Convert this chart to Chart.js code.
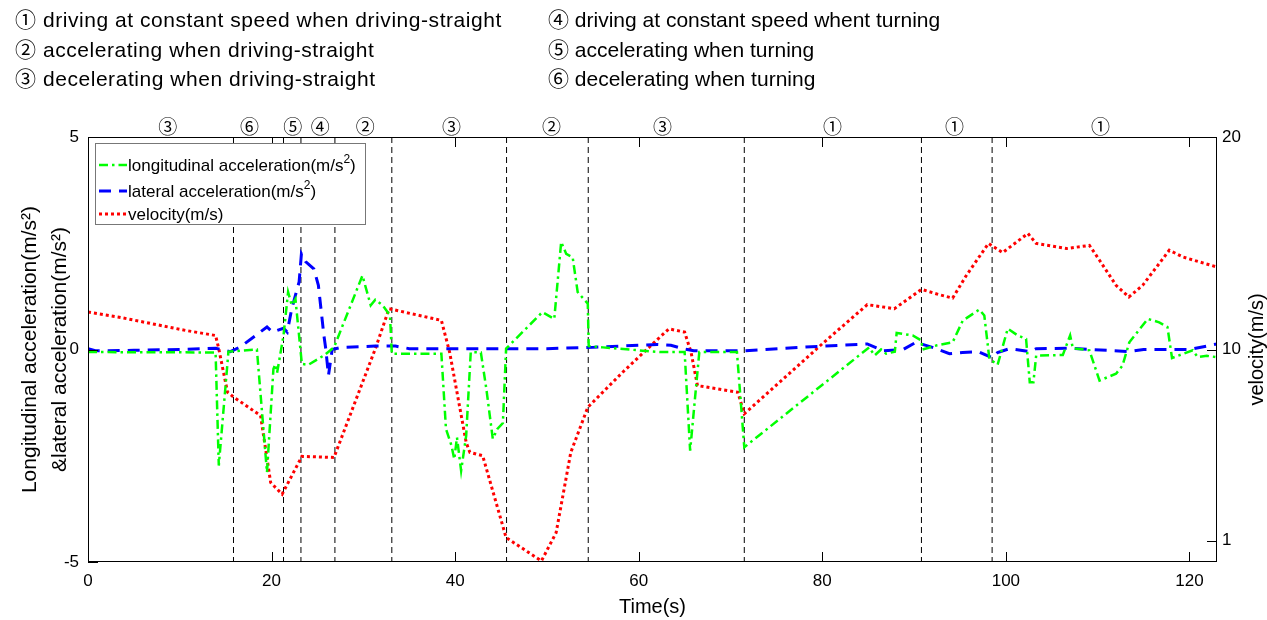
<!DOCTYPE html>
<html lang="en">
<head>
<meta charset="UTF-8" />
<title>Acceleration and velocity over time</title>
<script src="https://cdn.jsdelivr.net/npm/chart.js"></script>
<style>
  html, body { margin: 0; padding: 0; background: #fff; }
  #wrap { position: relative; width: 1267px; height: 620px; overflow: hidden; }
  #myChart { position: absolute; left: 0; top: 0; }
  .note {
    position: absolute;
    white-space: nowrap;
    font-family: "Liberation Sans", Arial, "Noto Sans CJK SC", sans-serif;
    font-size: 21px;
    line-height: 30px;
    color: #000;
  }
  .note.wide { letter-spacing: 0.55px; }
</style>
</head>
<body>
<div id="wrap">
  <canvas id="myChart" width="1267" height="620"></canvas>
</div>
<script>
// driving states listed above the plot
const stateNames = [
  "① driving at constant speed when driving-straight",
  "② accelerating when driving-straight",
  "③ decelerating when driving-straight",
  "④ driving at constant speed whent turning",
  "⑤ accelerating when turning",
  "⑥ decelerating when turning",
];

// segment boundaries (s) and the state mark above each segment
const boundaryTime = [15.85, 21.3, 23.2, 26.9, 33.1, 45.6, 54.5, 71.5, 90.8, 98.5, 123];
const stateMarkTime = [8.7, 17.6, 22.3, 25.3, 30.2, 39.6, 50.5, 62.6, 81.1, 94.4, 110.3];
const stateMarks = ["③", "⑥", "⑤", "④", "②", "③", "②", "③", "①", "①", "①"];

// tick labels
const timeTicks = [0, 20, 40, 60, 80, 100, 120];
const accTicks = [-5, 0, 5];
const velTicks = [1, 10, 20];

// longitudinal acceleration (m/s^2)
const lonTime = [0, 13.9, 14.25, 15.3, 18.4, 19.5, 20.2, 20.4, 20.6, 21.3, 21.8, 22.2, 22.6, 23.3, 24.0, 25.7, 26.8,
  29.9, 30.8, 31.3, 32.1, 32.9, 33.1, 38.5, 39.0, 39.6, 39.9, 40.2, 40.65, 41.2, 41.7, 42.8, 43.4, 44.1, 44.6, 45.2,
  45.55, 49.5, 50.8, 51.55, 52.1, 52.8, 53.35, 54.45, 54.55, 56.1, 62.3, 65.0, 65.6, 66.6, 70.7, 71.5, 85.1, 85.7,
  86.4, 86.95, 87.9, 88.1, 89.85, 90.8, 90.9, 92.5, 94.2, 95.3, 97.1, 97.65, 98.2, 99.1, 100.2, 101.3, 102.2, 102.6,
  103.0, 103.3, 106.2, 107.0, 107.3, 109.1, 110.2, 112.0, 112.7, 113.45, 115.45, 116.7, 117.6, 118.1, 120.35, 120.9,
  121.9, 123];
const lonAcc = [-0.06, -0.07, -2.73, -0.05, 0.0, -2.89, -0.46, -0.35, -0.55, 0.33, 1.35, 1.04, 1.19, -0.34, -0.36, -0.14, 0.05,
  1.74, 1.04, 1.17, 1.04, 0.8, -0.1, -0.1, -1.87, -2.26, -2.58, -2.07, -2.85, -2.03, -0.06, -0.07, -0.93, -2.1, -1.87, -1.73,
  0.02, 0.88, 0.72, 2.53, 2.25, 2.17, 1.35, 1.08, 0.08, 0.05, -0.06, -0.06, -2.38, -0.06, -0.06, -2.3, 0.05, -0.14,
  0.0, -0.1, -0.05, 0.39, 0.33, 0.21, 0.0, 0.1, 0.17, 0.68, 0.94, 0.8, -0.22, -0.36, 0.49, 0.33, 0.25, -0.77,
  -0.77, -0.14, -0.13, 0.33, 0.03, -0.02, -0.73, -0.57, -0.38, 0.17, 0.72, 0.64, 0.53, -0.2, -0.02, -0.18,
  -0.15, -0.18];

// lateral acceleration (m/s^2)
const latTime = [0, 0.8, 5, 10, 13.9, 15.5, 16.6, 19.5, 20.1, 21.3, 21.7, 22.2, 23.0, 23.25, 23.7, 24.6, 25.1, 25.7, 25.9,
  26.2, 26.6, 27.6, 31.3, 33.5, 35, 40, 50, 55, 60, 62, 63.5, 64.8, 66, 71.5, 80, 84.9, 86.6, 88.8, 90.2, 92.0, 93.85,
  95.3, 97, 98.55, 99.1, 100.4, 102.6, 103.3, 107, 113.45, 115, 120, 123];
const latAcc = [0.02, -0.03, -0.02, 0.0, 0.03, -0.05, 0.06, 0.53, 0.41, 0.5, 0.41, 0.96, 1.59, 2.25, 2.07, 1.9, 1.51, 0.33, 0.02,
  -0.61, 0.0, 0.05, 0.08, 0.08, 0.02, 0.02, 0.02, 0.05, 0.1, 0.12, 0.1, 0.02, -0.03, -0.03, 0.08, 0.13, -0.03, 0.0, 0.17, 0.05, -0.1,
  -0.07, -0.05, -0.2, -0.07, 0.02, -0.05, 0.02, 0.03, -0.05, 0.0, 0.0, 0.13];

// velocity (m/s)
const velTime = [0, 3.4, 7.0, 10.6, 13.9, 14.25, 15.2, 15.9, 18.8, 19.9, 21.15, 23.3, 26.8, 31.3, 32.8, 38.5, 39.4, 41.2,
  41.6, 43.0, 45.55, 49.4, 51.0, 52.6, 54.45, 58.25, 62.3, 63.3, 65.0, 65.7, 66.4, 70.8, 71.5, 80.0, 84.9, 87.85, 90.8,
  92.75, 94.2, 95.7, 98.1, 99.65, 102.4, 103.3, 106.6, 109.1, 110.2, 112.0, 113.4, 114.9, 117.8, 119.3, 123];
const vel = [11.76, 11.52, 11.21, 10.9, 10.66, 10.03, 7.99, 7.75, 6.89, 3.74, 3.19, 4.97, 4.92, 10.03, 11.92, 11.37, 9.87, 5.63,
  5.16, 5.0, 1.15, 0.05, 1.38, 5.16, 7.28, 8.93, 10.58, 10.97, 10.82, 9.87, 8.3, 7.99, 6.97, 10.27, 12.11, 11.92, 12.83,
  12.58, 12.42, 13.49, 14.99, 14.56, 15.46, 14.99, 14.75, 14.9, 14.2, 13.02, 12.47, 13.02, 14.67, 14.35, 13.88];

const FONT = '"Liberation Sans", Arial, sans-serif';

// state list above the chart
const wrap = document.getElementById("wrap");
stateNames.forEach((s, i) => {
  const d = document.createElement("div");
  d.className = i < 3 ? "note wide" : "note";
  d.textContent = s;
  d.style.left = (i < 3 ? 15 : 548) + "px";
  d.style.top = (5 + (i % 3) * 29.5) + "px";
  wrap.appendChild(d);
});

const toPoints = (xs, ys) => xs.map((t, i) => ({ x: t, y: ys[i] }));

// text with "²" drawn as a raised small 2
function drawSup(ctx, text, x, y, size) {
  const parts = text.split("²");
  let cx = x;
  parts.forEach((p, i) => {
    ctx.font = size + "px " + FONT;
    ctx.fillText(p, cx, y);
    cx += ctx.measureText(p).width;
    if (i < parts.length - 1) {
      ctx.font = Math.round(size * 0.68) + "px " + FONT;
      ctx.fillText("2", cx, y - size * 0.38);
      cx += ctx.measureText("2").width;
    }
  });
}

// box, inward ticks, legend, state marks and right axis title
const framePlugin = {
  id: "frame",
  afterDatasetsDraw(chart) {
    const { ctx, chartArea: a, scales } = chart;
    const { x, y, y1 } = scales;
    ctx.save();
    ctx.setLineDash([]);
    ctx.strokeStyle = "#000";
    ctx.lineWidth = 1;

    ctx.beginPath();
    timeTicks.forEach(t => {
      const px = Math.round(x.getPixelForValue(t)) + 0.5;
      ctx.moveTo(px, a.bottom); ctx.lineTo(px, a.bottom - 10);
      ctx.moveTo(px, a.top); ctx.lineTo(px, a.top + 10);
    });
    accTicks.forEach(v => {
      const py = Math.round(y.getPixelForValue(v)) + 0.5;
      ctx.moveTo(a.left, py); ctx.lineTo(a.left + 10, py);
    });
    velTicks.forEach(v => {
      const py = Math.round(y1.getPixelForValue(v)) + 0.5;
      ctx.moveTo(a.right, py); ctx.lineTo(a.right - 10, py);
    });
    ctx.stroke();
    ctx.strokeRect(a.left + 0.5, a.top + 0.5, a.right - a.left - 1, a.bottom - a.top - 1);

    // legend
    const lx = a.left + 7, ly = a.top + 6, lw = 270, lh = 81;
    ctx.fillStyle = "#fff";
    ctx.fillRect(lx, ly, lw, lh);
    ctx.strokeStyle = "#777";
    ctx.strokeRect(lx + 0.5, ly + 0.5, lw, lh);
    ctx.textBaseline = "middle";
    ctx.textAlign = "left";
    [22, 48, 71].forEach((off, i) => {
      const ds = chart.data.datasets[i];
      const ry = ly + off;
      ctx.strokeStyle = ds.borderColor;
      ctx.lineWidth = ds.borderWidth;
      ctx.setLineDash(ds.borderDash);
      ctx.beginPath();
      ctx.moveTo(lx + 4, ry); ctx.lineTo(lx + 32, ry);
      ctx.stroke();
      ctx.setLineDash([]);
      ctx.fillStyle = "#000";
      drawSup(ctx, ds.label, lx + 33, ry + 1, 17);
    });

    // state marks above the plot
    ctx.font = '19px "Noto Sans CJK SC", ' + FONT;
    ctx.textAlign = "center";
    stateMarks.forEach((m, i) => {
      ctx.fillText(m, x.getPixelForValue(stateMarkTime[i]), a.top - 10);
    });

    // right axis title, reading bottom to top
    ctx.font = "20px " + FONT;
    ctx.translate(1257, (a.top + a.bottom) / 2);
    ctx.rotate(-Math.PI / 2);
    ctx.fillText("velocity(m/s)", 0, 0);
    ctx.restore();
  }
};

const ctx = document.getElementById("myChart").getContext("2d");

const chart = new Chart(ctx, {
  type: "line",
  data: {
    datasets: [
      {
        label: "longitudinal acceleration(m/s²)",
        data: toPoints(lonTime, lonAcc),
        yAxisID: "y",
        borderColor: "#00ff00",
        borderWidth: 2.5,
        borderDash: [9, 4, 2.5, 4],
      },
      {
        label: "lateral acceleration(m/s²)",
        data: toPoints(latTime, latAcc),
        yAxisID: "y",
        borderColor: "#0000ff",
        borderWidth: 3,
        borderDash: [12, 8],
      },
      {
        label: "velocity(m/s)",
        data: toPoints(velTime, vel),
        yAxisID: "y1",
        borderColor: "#ff0000",
        borderWidth: 3,
        borderDash: [3, 3],
      },
      ...boundaryTime.map(t => ({
        label: "",
        data: [{ x: t, y: 5 }, { x: t, y: -5 }],
        yAxisID: "y",
        borderColor: "#000",
        borderWidth: 1,
        borderDash: [6, 4],
      })),
    ],
  },
  options: {
    responsive: false,
    animation: false,
    layout: { padding: { top: 137, left: 0, right: 0, bottom: 0 } },
    elements: { point: { radius: 0 }, line: { tension: 0, borderCapStyle: "butt" } },
    plugins: { legend: { display: false }, tooltip: { enabled: false } },
    scales: {
      x: {
        type: "linear",
        min: 0,
        max: 123,
        afterBuildTicks: s => { s.ticks = timeTicks.map(v => ({ value: v })); },
        afterFit: s => { s.height = 58; },
        grid: { display: false, drawTicks: false },
        border: { display: false },
        ticks: { color: "#000", padding: 9, maxRotation: 0, font: { family: FONT, size: 17 } },
        title: { display: true, text: "Time(s)", color: "#000", font: { family: FONT, size: 20 }, padding: { top: 0, bottom: 1 } },
      },
      y: {
        position: "left",
        min: -5,
        max: 5,
        afterBuildTicks: s => { s.ticks = accTicks.map(v => ({ value: v })); },
        afterFit: s => { s.width = 88; },
        grid: { display: false, drawTicks: false },
        border: { display: false },
        ticks: { color: "#000", padding: 9, font: { family: FONT, size: 17 } },
        title: {
          display: true,
          text: ["Longitudinal acceleration(m/s²)", "&lateral acceleration(m/s²)"],
          color: "#000",
          font: { family: FONT, size: 21, lineHeight: 1.45 },
          padding: { top: 15, bottom: 0 },
        },
      },
      y1: {
        position: "right",
        min: 0,
        max: 20,
        afterBuildTicks: s => { s.ticks = velTicks.map(v => ({ value: v })); },
        afterFit: s => { s.width = 50; },
        grid: { display: false, drawTicks: false },
        border: { display: false },
        ticks: { color: "#000", padding: 5, font: { family: FONT, size: 17 } },
      },
    },
  },
  plugins: [framePlugin],
});
</script>
</body>
</html>
